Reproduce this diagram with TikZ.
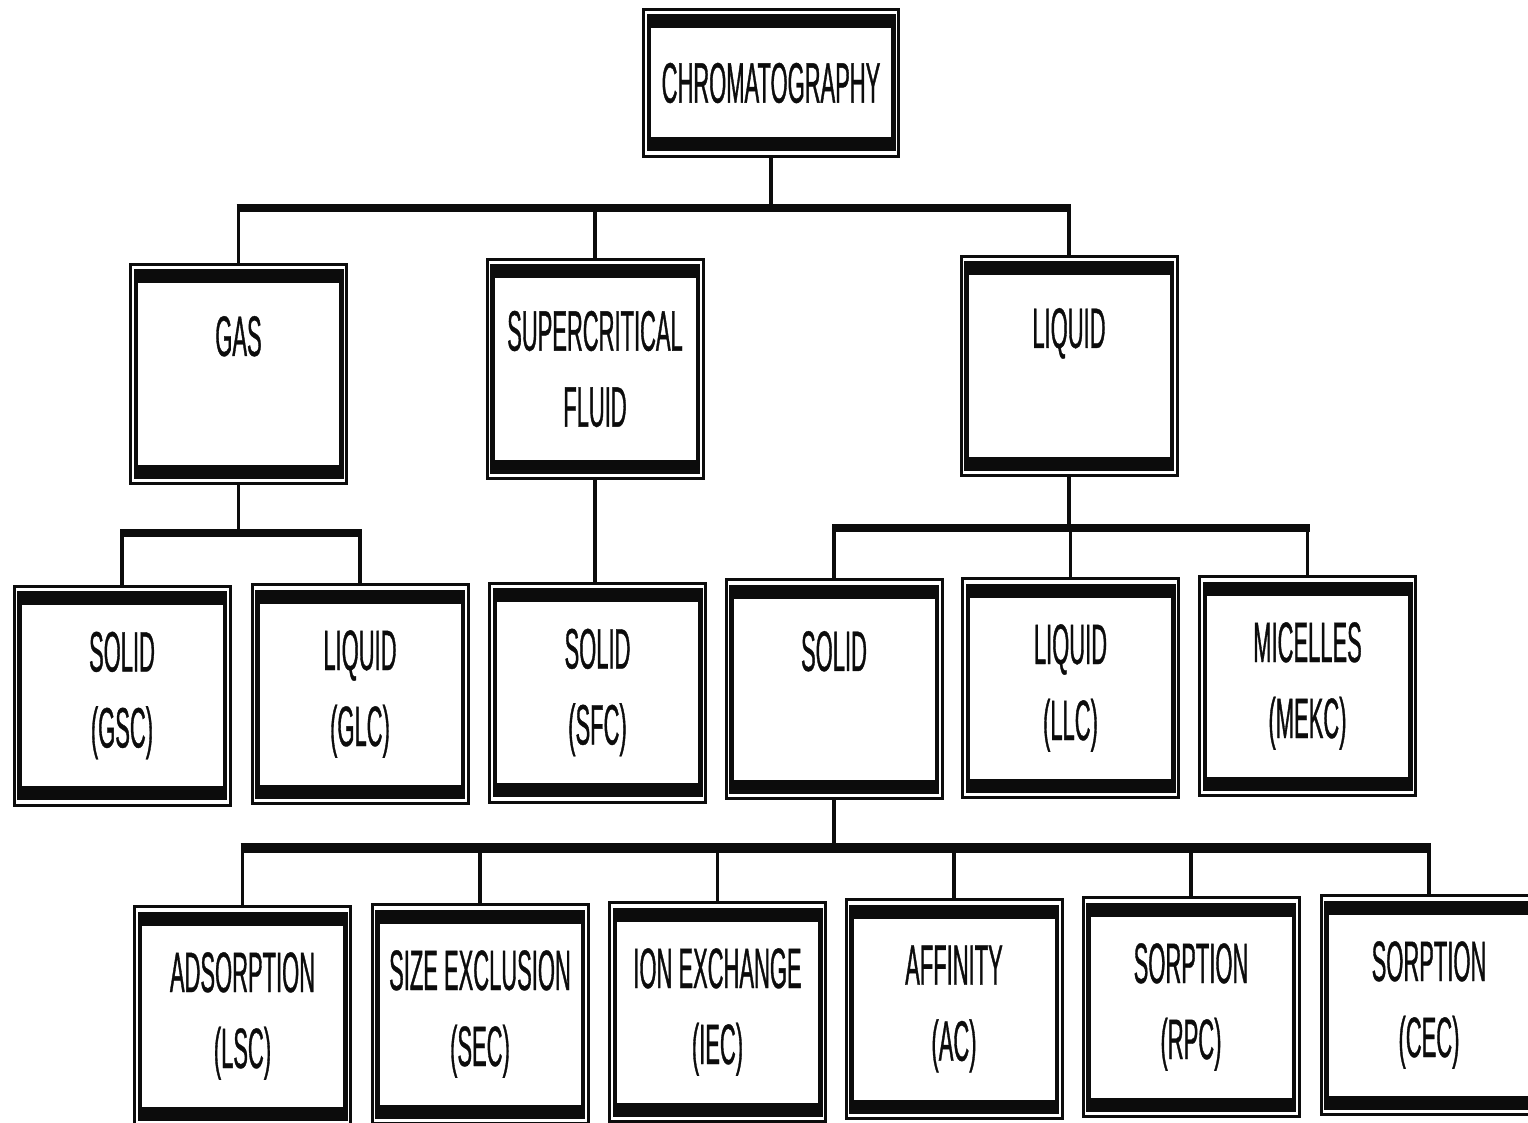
\documentclass[tikz,border=0pt]{standalone}
\usepackage{fontspec}
\usepackage{tikz}
\usetikzlibrary{calc}
\newfontfamily\chromface[FakeStretch=0.385,FakeBold=0.6]{Liberation Sans}
\newcommand{\chromfont}{\chromface\fontsize{57}{76}\selectfont}
\definecolor{inkblack}{RGB}{12,12,12}
\tikzset{
  catbox/.style={draw=inkblack,line width=3pt,fill=white,inner sep=0pt,
    minimum width=216pt,minimum height=219pt,align=center,font=\chromfont,
    text=inkblack,
    path picture={
      \fill[inkblack] ([shift={(3pt,-5pt)}]path picture bounding box.north west)
        rectangle ([shift={(-3pt,5pt)}]path picture bounding box.south east);
      \fill[white] ([shift={(7.5pt,-19pt)}]path picture bounding box.north west)
        rectangle ([shift={(-7.5pt,19pt)}]path picture bounding box.south east);
    }},
  rootbox/.style={catbox,minimum width=255pt,minimum height=147pt},
  stemline/.style={draw=inkblack,line width=3.5pt},
  busline/.style={draw=inkblack,line width=8pt,shorten <=-2pt,shorten >=-2pt}
}

\begin{document}
\begin{tikzpicture}[x=1pt,y=-1pt]
  \useasboundingbox (0,0) rectangle (1528,1123);
  \fill[white] (0,0) rectangle (1528,1123);
  \node[rootbox] (chrom) at (771,83) {CHROMATOGRAPHY};
  \node[catbox] (gas) at (238.5,374) {GAS\\ \mbox{}};
  \node[catbox] (scf) at (595,369) {SUPERCRITICAL\\FLUID};
  \node[catbox] (liq) at (1069,366) {LIQUID\\ \mbox{}};
  \node[catbox] (gsc) at (122,695.5) {SOLID\\(GSC)};
  \node[catbox] (glc) at (360,694) {LIQUID\\(GLC)};
  \node[catbox] (sfc) at (597.5,692.5) {SOLID\\(SFC)};
  \node[catbox] (lsol) at (834,689) {SOLID\\ \mbox{}};
  \node[catbox] (llc) at (1070.5,688) {LIQUID\\(LLC)};
  \node[catbox] (mekc) at (1307.5,686) {MICELLES\\(MEKC)};
  \node[catbox] (lsc) at (242.5,1016) {ADSORPTION\\(LSC)};
  \node[catbox] (sec) at (480,1014) {SIZE EXCLUSION\\(SEC)};
  \node[catbox] (iec) at (717.5,1012) {ION EXCHANGE\\(IEC)};
  \node[catbox] (ac) at (954,1009) {AFFINITY\\(AC)};
  \node[catbox] (rpc) at (1191,1007) {SORPTION\\(RPC)};
  \node[catbox] (cec) at (1429,1005) {SORPTION\\(CEC)};
  \coordinate (bus1) at (771,208);
  \coordinate (bus2) at (240,533);
  \coordinate (bus3) at (1069,528);
  \coordinate (bus4) at (834,848);
  \draw[stemline] (chrom.south) -- (bus1);
  \draw[busline] (bus1 -| gas.north) -- (bus1 -| liq.north);
  \foreach \n in {gas,scf,liq}
    \draw[stemline] (bus1 -| \n.north) -- (\n.north);
  \draw[stemline] (gas.south) -- (gas.south |- bus2);
  \draw[busline] (bus2 -| gsc.north) -- (bus2 -| glc.north);
  \foreach \n in {gsc,glc}
    \draw[stemline] (bus2 -| \n.north) -- (\n.north);
  \draw[stemline] (scf.south) -- (scf.south |- sfc.north);
  \draw[stemline] (liq.south) -- (bus3);
  \draw[busline] (bus3 -| lsol.north) -- (bus3 -| mekc.north);
  \foreach \n in {lsol,llc,mekc}
    \draw[stemline] (bus3 -| \n.north) -- (\n.north);
  \draw[stemline] (lsol.south) -- (bus4);
  \draw[busline,line width=10pt] (bus4 -| lsc.north) -- (bus4 -| cec.north);
  \foreach \n in {lsc,sec,iec,ac,rpc,cec}
    \draw[stemline] (bus4 -| \n.north) -- (\n.north);
\end{tikzpicture}
\end{document}
